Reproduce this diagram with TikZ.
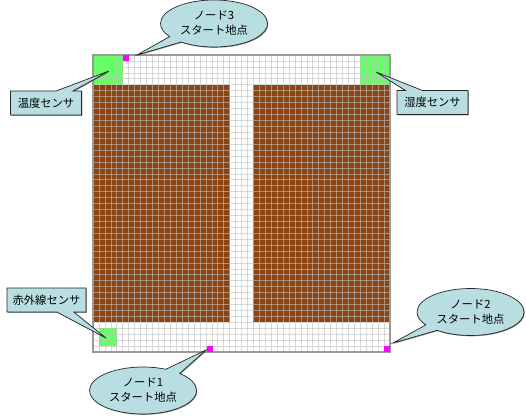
\documentclass[tikz,border=0pt]{standalone}
\usepackage{fontspec}
\setmainfont{Noto Sans CJK JP}
\usepackage{xcolor}
\usetikzlibrary{shapes.callouts,shadows}
\definecolor{bubble}{HTML}{B8DEE2}
\definecolor{soil}{HTML}{8B4513}
\definecolor{sensorgreen}{HTML}{66FF66}
\definecolor{startpink}{HTML}{FF00FF}
\begin{document}
\begin{tikzpicture}[
  x=1pt, y=-1pt,
  font=\fontsize{11.3}{15}\selectfont,
  gridline/.style={draw=black!25, line width=0.6pt, opacity=0.6},
  rimline/.style={draw=black!40, line width=1.1pt},
  balloon/.style={ellipse callout, draw=black!85, line width=0.7pt, fill=bubble, align=center,
                  minimum width=107pt, minimum height=47pt, inner sep=0pt, callout pointer arc=18,
                  drop shadow={shadow xshift=0.8pt, shadow yshift=-0.8pt, fill=black!60, opacity=0.7}},
  tag/.style={rectangle callout, draw=black!85, line width=0.7pt, fill=bubble, align=center,
              minimum height=24pt, inner sep=0pt, callout pointer width=17pt,
              drop shadow={shadow xshift=0.8pt, shadow yshift=-0.8pt, fill=black!60, opacity=0.7}},
]
\useasboundingbox (0,0) rectangle (526,416);
% field, one unit is one cell
\begin{scope}[shift={(93,55)}, x=5.94pt, y=-5.94pt]
  \fill[soil] (0,5) rectangle (23,45);
  \fill[soil] (27,5) rectangle (50,45);
  \fill[sensorgreen] (0,0) rectangle (5,5);
  \fill[sensorgreen] (45,0) rectangle (50,5);
  \fill[sensorgreen] (1,46) rectangle (4,49);
  \foreach \i in {0,...,50} {
    \draw[gridline] (\i,0) -- (\i,50);
    \draw[gridline] (0,\i) -- (50,\i);
  }
  \draw[rimline] (0,0) rectangle (50,50);
  % start points
  \foreach \px/\py in {5/0, 19.2/49, 49/49} {
    \fill[startpink] (\px,\py) rectangle ++(1,1);
  }
\end{scope}
% pointer tips
\coordinate (tipA) at (109,71);
\coordinate (tipB) at (376,72);
\coordinate (tipC) at (106,338);
\coordinate (tipN1) at (206,350);
\coordinate (tipN2) at (393,343);
\coordinate (tipN3) at (137,55);
% sensors
\node[tag, minimum width=71pt, callout absolute pointer={(tipA)}] (humL) at (46,103) {温度センサ};
\node[tag, minimum width=71pt, callout absolute pointer={(tipB)}] (humR) at (432.5,102.5) {湿度センサ};
\node[tag, minimum width=79pt, callout absolute pointer={(tipC)}] (infra) at (46.5,300) {赤外線センサ};
% start points of the nodes
\node[balloon, callout absolute pointer={(tipN1)}] (node1) at (143,390.5) {ノード1\\スタート地点};
\node[balloon, callout absolute pointer={(tipN2)}] (node2) at (470.5,312) {ノード2\\スタート地点};
\node[balloon, callout absolute pointer={(tipN3)}] (node3) at (214,23.5) {ノード3\\スタート地点};
\end{tikzpicture}
\end{document}
